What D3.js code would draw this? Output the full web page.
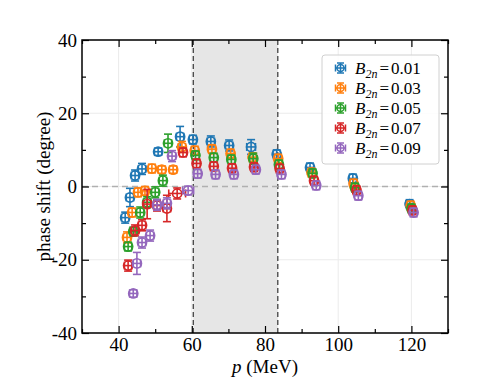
<!DOCTYPE html>
<html><head><meta charset="utf-8">
<script src="https://cdn.jsdelivr.net/npm/d3@7"></script>
<style>body{margin:0;background:#fff}svg{display:block}</style>
</head><body>
<svg id="c" width="490" height="390"></svg>
<script>
const xTicks = [40, 60, 80, 100, 120];
const xMinor = [30, 50, 70, 90, 110, 130];
const yTicks = [-40, -20, 0, 20, 40];
const yMinor = [-30, -10, 10, 30];
const band = [60.4, 83.5];
const labels = ["0.01", "0.03", "0.05", "0.07", "0.09"];
const colors = ["#1f77b4", "#ff7f0e", "#2ca02c", "#d62728", "#9467bd"];

const p1 = [41.8, 43.1, 44.5, 46.4, 50.8, 56.8, 60.3, 65.2, 70.2, 76.2, 83.2, 92.3, 104.0, 119.5];
const d1 = [-8.5, -3.0, 3.0, 4.8, 9.5, 13.6, 12.8, 12.3, 11.2, 10.8, 8.8, 5.2, 2.2, -4.8];
const pe1 = [1, 1, 1, 1, 1, 1, 1, 1, 1, 1.2, 1, 1, 1, 1];
const de1 = [1.5, 2.5, 1.5, 1.5, 1.0, 2.8, 1.2, 1.5, 1.5, 2.0, 1.2, 1.2, 1.2, 1.2];

const p2 = [42.3, 43.7, 45.3, 47.2, 49.1, 51.8, 54.9, 57.3, 60.8, 65.5, 70.6, 76.6, 83.6, 92.7, 104.2, 119.8];
const d2 = [-13.9, -7.1, -1.6, -1.2, 4.9, 4.6, 4.6, 10.8, 9.8, 10.2, 9.0, 8.0, 7.6, 3.8, 0.8, -5.2];
const pe2 = [1, 1, 1, 1, 1, 1, 1, 1, 1, 1, 1, 1, 1, 1, 1, 1];
const de2 = [1.5, 1.2, 1.2, 1.2, 1.2, 1.0, 1.0, 1.5, 1.2, 1.2, 1.2, 1.2, 1.2, 1.2, 1.2, 1.2];

const p3 = [42.6, 44.0, 45.9, 47.8, 50.0, 52.1, 53.5, 61.0, 66.0, 70.8, 76.8, 83.8, 93.0, 104.6, 120.0];
const d3v = [-16.4, -12.3, -7.1, -4.3, -1.6, 1.6, 11.8, 8.5, 7.9, 7.4, 7.6, 6.0, 3.6, -0.3, -6.0];
const pe3 = [1, 1, 1, 1, 1, 1, 1, 1, 1, 1, 1, 1, 1, 1, 1];
const de3 = [1.2, 1.2, 1.5, 1.5, 1.5, 1.5, 2.5, 1.2, 1.2, 1.2, 1.5, 1.2, 1.2, 1.2, 1.2];

const p4 = [42.6, 44.5, 46.4, 47.8, 50.5, 53.2, 56.0, 57.6, 61.3, 66.0, 71.0, 77.0, 84.0, 93.4, 105.0, 120.3];
const d4 = [-21.6, -12.0, -10.6, -4.8, -5.2, -6.0, -1.9, 9.3, 6.3, 5.5, 5.0, 5.3, 4.9, 1.6, -1.0, -6.5];
const pe4 = [1, 1, 1, 1, 1, 1, 2.3, 1, 1, 1, 1, 1, 1, 1, 1, 1];
const de4 = [1.5, 1.5, 1.5, 4.0, 1.5, 3.6, 1.5, 1.2, 1.2, 1.2, 1.2, 1.2, 1.2, 1.2, 1.2, 1.2];

const p5 = [44.0, 45.0, 46.4, 48.6, 50.5, 53.2, 54.6, 59.0, 61.6, 66.5, 71.5, 77.5, 84.5, 94.0, 105.5, 120.6];
const d5 = [-29.2, -21.0, -15.3, -13.4, -5.0, -4.6, 8.3, -1.1, 3.5, 3.3, 3.3, 4.6, 3.3, 0.3, -2.5, -7.1];
const pe5 = [1, 1, 1, 1, 1, 1, 1, 1.5, 1, 1, 1, 1, 1, 1, 1, 1];
const de5 = [1.0, 3.0, 1.5, 1.5, 1.5, 1.5, 1.5, 1.2, 1.2, 1.2, 1.2, 1.2, 1.2, 1.2, 1.2, 1.2];

const series = [[p1, d1, pe1, de1], [p2, d2, pe2, de2], [p3, d3v, pe3, de3], [p4, d4, pe4, de4], [p5, d5, pe5, de5]];

const L = 82, R = 448, T = 40, B = 333;
const svg = d3.select("#c");
const x = d3.scaleLinear().domain([30, 130]).range([L, R]);
const y = d3.scaleLinear().domain([-40, 40]).range([B, T]);
const FONT = "'Liberation Serif', 'DejaVu Serif', serif";
const FS = 19;

// grid
const g = svg.append("g");
g.selectAll(".gx").data(xTicks).join("line").attr("x1", d => x(d)).attr("x2", d => x(d))
  .attr("y1", T).attr("y2", B).attr("stroke", "#ebebeb").attr("stroke-width", 1);
g.selectAll(".gy").data(yTicks).join("line").attr("y1", d => y(d)).attr("y2", d => y(d))
  .attr("x1", L).attr("x2", R).attr("stroke", "#ebebeb").attr("stroke-width", 1);

// band
svg.append("rect").attr("x", x(band[0])).attr("y", T).attr("width", x(band[1]) - x(band[0]))
  .attr("height", B - T).attr("fill", "#e6e6e6");
band.forEach(b => svg.append("line").attr("x1", x(b)).attr("x2", x(b)).attr("y1", T).attr("y2", B)
  .attr("stroke", "#333").attr("stroke-width", 1.2).attr("stroke-dasharray", "5,3"));

// zero line
svg.append("line").attr("x1", L).attr("x2", R).attr("y1", y(0)).attr("y2", y(0))
  .attr("stroke", "#b0b0b0").attr("stroke-width", 1.5).attr("stroke-dasharray", "6,4");

// data
const cap = 4;
series.forEach((s, si) => {
  const [P, D, PE, DE] = s;
  const col = colors[si];
  const gg = svg.append("g").attr("stroke", col).attr("fill", "none").attr("stroke-width", 1.6);
  P.forEach((pv, i) => {
    const cx = x(pv), cy = y(D[i]);
    const x0 = x(pv - PE[i]), x1 = x(pv + PE[i]);
    const y0 = y(D[i] - DE[i]), y1 = y(D[i] + DE[i]);
    gg.append("line").attr("x1", x0).attr("x2", x1).attr("y1", cy).attr("y2", cy);
    gg.append("line").attr("x1", cx).attr("x2", cx).attr("y1", y0).attr("y2", y1);
    gg.append("line").attr("x1", x0).attr("x2", x0).attr("y1", cy - cap).attr("y2", cy + cap);
    gg.append("line").attr("x1", x1).attr("x2", x1).attr("y1", cy - cap).attr("y2", cy + cap);
    gg.append("line").attr("x1", cx - cap).attr("x2", cx + cap).attr("y1", y0).attr("y2", y0);
    gg.append("line").attr("x1", cx - cap).attr("x2", cx + cap).attr("y1", y1).attr("y2", y1);
    gg.append("circle").attr("cx", cx).attr("cy", cy).attr("r", 4.6);
  });
});

// axes
function styleAxis(sel) {
  sel.select(".domain").remove();
  sel.selectAll(".tick line").attr("stroke", "#000").attr("stroke-width", 1.2);
  sel.selectAll("text").attr("font-family", FONT).attr("font-size", FS).attr("fill", "#000");
}
const fmt = d => String(d);
svg.append("g").attr("transform", `translate(0,${B})`)
  .call(d3.axisBottom(x).tickValues(xTicks).tickSize(-7).tickSizeOuter(0).tickPadding(5).tickFormat(fmt)).call(styleAxis);
svg.append("g").attr("transform", `translate(0,${B})`)
  .call(d3.axisBottom(x).tickValues(xMinor).tickSize(-4).tickSizeOuter(0).tickFormat("")).call(styleAxis);
svg.append("g").attr("transform", `translate(0,${T})`)
  .call(d3.axisTop(x).tickValues(xTicks).tickSize(-7).tickSizeOuter(0).tickFormat("")).call(styleAxis);
svg.append("g").attr("transform", `translate(0,${T})`)
  .call(d3.axisTop(x).tickValues(xMinor).tickSize(-4).tickSizeOuter(0).tickFormat("")).call(styleAxis);
svg.append("g").attr("transform", `translate(${L},0)`)
  .call(d3.axisLeft(y).tickValues(yTicks).tickSize(-7).tickSizeOuter(0).tickPadding(5).tickFormat(fmt)).call(styleAxis);
svg.append("g").attr("transform", `translate(${L},0)`)
  .call(d3.axisLeft(y).tickValues(yMinor).tickSize(-4).tickSizeOuter(0).tickFormat("")).call(styleAxis);
svg.append("g").attr("transform", `translate(${R},0)`)
  .call(d3.axisRight(y).tickValues(yTicks).tickSize(-7).tickSizeOuter(0).tickFormat("")).call(styleAxis);
svg.append("g").attr("transform", `translate(${R},0)`)
  .call(d3.axisRight(y).tickValues(yMinor).tickSize(-4).tickSizeOuter(0).tickFormat("")).call(styleAxis);

svg.append("rect").attr("x", L).attr("y", T).attr("width", R - L).attr("height", B - T)
  .attr("fill", "none").attr("stroke", "#000").attr("stroke-width", 1.5);

// axis labels
const xl = svg.append("text").attr("x", (L + R) / 2).attr("y", 373).attr("text-anchor", "middle")
  .attr("font-family", FONT).attr("font-size", FS);
xl.append("tspan").attr("font-style", "italic").text("p");
xl.append("tspan").text(" (MeV)");
svg.append("text").attr("transform", `translate(50,${(T + B) / 2}) rotate(-90)`).attr("text-anchor", "middle")
  .attr("font-family", FONT).attr("font-size", FS).text("phase shift (degree)");

// legend
const lg = svg.append("g");
lg.append("rect").attr("x", 322).attr("y", 55).attr("width", 117).attr("height", 109).attr("rx", 3)
  .attr("fill", "#fff").attr("fill-opacity", 0.85).attr("stroke", "#d0d0d0").attr("stroke-width", 1);
labels.forEach((lab, i) => {
  const cy = 68 + i * 20, cx = 340.5, col = colors[i];
  const m = lg.append("g").attr("stroke", col).attr("fill", "none").attr("stroke-width", 1.5);
  const h = 5;
  m.append("line").attr("x1", cx - h).attr("x2", cx + h).attr("y1", cy).attr("y2", cy);
  m.append("line").attr("x1", cx).attr("x2", cx).attr("y1", cy - h).attr("y2", cy + h);
  m.append("line").attr("x1", cx - h).attr("x2", cx - h).attr("y1", cy - 3.5).attr("y2", cy + 3.5);
  m.append("line").attr("x1", cx + h).attr("x2", cx + h).attr("y1", cy - 3.5).attr("y2", cy + 3.5);
  m.append("line").attr("x1", cx - 3.5).attr("x2", cx + 3.5).attr("y1", cy - h).attr("y2", cy - h);
  m.append("line").attr("x1", cx - 3.5).attr("x2", cx + 3.5).attr("y1", cy + h).attr("y2", cy + h);
  m.append("circle").attr("cx", cx).attr("cy", cy).attr("r", 3.5);
  const t = lg.append("text").attr("x", 355).attr("y", cy + 6).attr("font-family", FONT).attr("font-size", 17);
  t.append("tspan").attr("font-style", "italic").text("B");
  t.append("tspan").attr("font-style", "italic").attr("font-size", 12).attr("dy", 4).text("2n");
  t.append("tspan").attr("dy", -4).attr("dx", 2).text("=");
  t.append("tspan").attr("dx", 2).text(lab);
});
</script>
</body></html>
